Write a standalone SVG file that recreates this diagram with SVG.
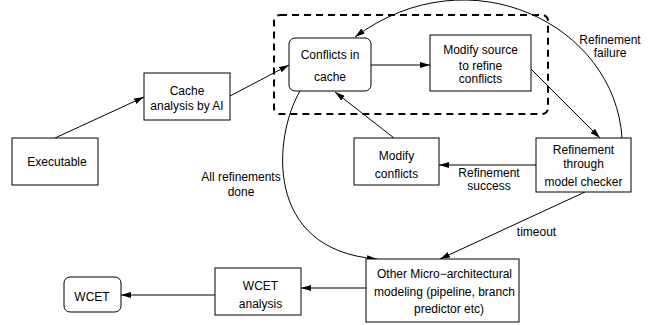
<svg xmlns="http://www.w3.org/2000/svg" width="657" height="325" viewBox="0 0 657 325">
<style>
.box{fill:#fff;stroke:#000;stroke-width:1}
.t{font-family:"Liberation Sans",Arial,sans-serif;font-size:12px;fill:#000;text-anchor:middle}
.c{fill:none;stroke:#000;stroke-width:1}
</style>
<defs>
<marker id="ah" viewBox="0 0 10 6" refX="10" refY="3" markerWidth="10" markerHeight="6" markerUnits="userSpaceOnUse" orient="auto">
<path d="M0,0 L10,3 L0,6 Z" fill="#000"/>
</marker>
</defs>
<rect width="657" height="325" fill="#fff"/>
<rect id="group" x="274" y="15" width="274" height="99" rx="6" fill="none" stroke="#000" stroke-width="2" stroke-dasharray="7,5"/>
<g id="connectors">
<line class="c" x1="55" y1="138" x2="144" y2="97" marker-end="url(#ah)"/>
<line class="c" x1="230" y1="96" x2="289" y2="65" marker-end="url(#ah)"/>
<line class="c" x1="371" y1="65" x2="430" y2="65" marker-end="url(#ah)"/>
<line class="c" x1="531" y1="69" x2="600" y2="138" marker-end="url(#ah)"/>
<path class="c" d="M622,138 C615,25 470,-48 355,37" marker-end="url(#ah)"/>
<line class="c" x1="536" y1="165" x2="439" y2="165" marker-end="url(#ah)"/>
<line class="c" x1="394" y1="138" x2="335" y2="92" marker-end="url(#ah)"/>
<path class="c" d="M300,91 C274,135 262,250 377,259" marker-end="url(#ah)"/>
<line class="c" x1="585" y1="192" x2="440" y2="259" marker-end="url(#ah)"/>
<line class="c" x1="366" y1="288" x2="301" y2="288" marker-end="url(#ah)"/>
<line class="c" x1="215" y1="295" x2="121" y2="295" marker-end="url(#ah)"/>
</g>
<g id="executable">
<rect class="box" x="12" y="138" width="86" height="47"/>
<text class="t" x="57" y="165.5">Executable</text>
</g>
<g id="cache-analysis">
<rect class="box" x="144" y="73" width="86" height="47"/>
<text class="t" x="187" y="94.5">Cache</text>
<text class="t" x="187" y="109.5">analysis by AI</text>
</g>
<g id="conflicts-in-cache">
<rect class="box" x="289" y="38" width="82" height="53" rx="6"/>
<text class="t" x="330" y="59">Conflicts in</text>
<text class="t" x="330" y="81">cache</text>
</g>
<g id="modify-source">
<rect class="box" x="430" y="35" width="101" height="56"/>
<text class="t" x="480.5" y="54">Modify source</text>
<text class="t" x="480.5" y="69.5">to refine</text>
<text class="t" x="480.5" y="83">conflicts</text>
</g>
<g id="refinement-mc">
<rect class="box" x="536" y="138" width="95" height="54"/>
<text class="t" x="583.5" y="153.5">Refinement</text>
<text class="t" x="583.5" y="168">through</text>
<text class="t" x="583.5" y="186">model checker</text>
</g>
<g id="modify-conflicts">
<rect class="box" x="354" y="138" width="85" height="47"/>
<text class="t" x="396.5" y="159.5">Modify</text>
<text class="t" x="396.5" y="177.5">conflicts</text>
</g>
<g id="other-micro">
<rect class="box" x="366" y="259" width="153" height="63"/>
<text class="t" x="444.5" y="277.5">Other Micro−architectural</text>
<text class="t" x="444.5" y="295.5">modeling (pipeline, branch</text>
<text class="t" x="449" y="312.5">predictor etc)</text>
</g>
<g id="wcet-analysis">
<rect class="box" x="215" y="268" width="86" height="47"/>
<text class="t" x="260.5" y="289.5">WCET</text>
<text class="t" x="260.5" y="307.5">analysis</text>
</g>
<g id="wcet">
<rect class="box" x="64" y="277" width="57" height="35" rx="6"/>
<text class="t" x="92" y="301">WCET</text>
</g>
<g id="labels">
<text class="t" x="610" y="43.5">Refinement</text>
<text class="t" x="610" y="57">failure</text>
<text class="t" x="489" y="176.5">Refinement</text>
<text class="t" x="489" y="190">success</text>
<text class="t" x="241" y="180.5">All refinements</text>
<text class="t" x="241" y="195.5">done</text>
<text class="t" x="536.5" y="236">timeout</text>
</g>
</svg>
